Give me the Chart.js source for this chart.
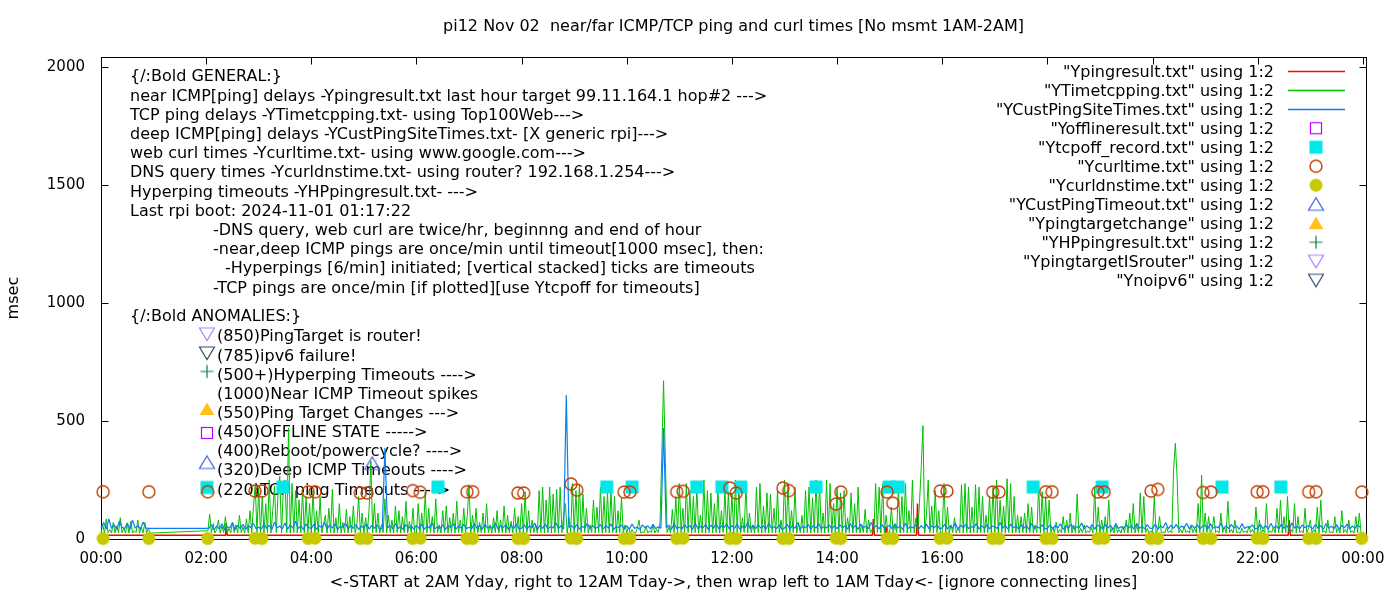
<!DOCTYPE html>
<html>
<head>
<meta charset="utf-8">
<script src="https://cdn.jsdelivr.net/npm/chart.js@4.4.1/dist/chart.umd.min.js"></script>
<style>html,body{margin:0;padding:0;background:#fff}</style>
</head>
<body>
<canvas id="c" width="1400" height="600"></canvas>
<script>
const FONT = "'DejaVu Sans', sans-serif";

// near ICMP ping (red line), sparse points, hours / msec
const pingHours = [0, 0.93, 2.03, 2.37, 2.38, 2.40, 14.67, 14.69, 14.71, 14.91, 14.93, 14.95, 15.51, 15.53, 15.55, 22.58, 22.60, 22.62, 23.97];
const pingMs    = [16, 16, 16, 16, 68, 16, 16, 85, 16, 16, 52, 16, 16, 150, 16, 16, 80, 16, 16];

// TCP ping delays (green), one value every 2 minutes from 00:00, one row per hour
const TCP_STEP_MIN = 2;
const tcpMs = [
  25,60,25,85,27,40,25,70,25,55,25,90,27,45,25,65,25,75,25,35,27,80,25,50,25,70,25,45,25,null,
  null,null,null,null,null,null,null,null,null,null,null,null,null,null,null,null,null,null,null,null,null,null,null,null,null,null,null,null,null,null,
  null,35,105,27,65,25,40,80,25,55,27,95,25,45,25,70,27,60,25,100,27,50,25,85,25,120,27,135,230,27,
  215,27,180,25,150,27,250,25,120,225,27,190,265,25,200,250,27,470,25,235,27,205,25,165,27,210,25,180,27,150,
  27,205,25,120,27,180,25,60,100,25,130,27,210,25,90,27,150,25,70,27,125,25,95,27,140,25,60,180,25,110,
  25,90,27,130,330,25,150,27,110,25,60,27,170,25,100,27,80,25,140,27,120,25,95,27,160,25,75,27,130,25,
  27,150,25,110,27,200,25,130,27,95,25,170,27,60,25,120,27,140,25,90,27,110,25,160,27,80,25,130,27,100,
  230,25,100,27,130,25,70,27,110,25,150,27,60,25,90,27,120,25,80,27,140,25,100,27,75,25,130,27,95,25,
  150,25,200,27,120,25,80,27,60,25,205,27,220,25,165,27,220,25,190,27,210,25,220,27,100,150,25,90,27,235,
  25,205,27,230,25,190,27,130,25,60,27,165,25,135,27,220,25,180,27,195,25,205,27,180,25,120,27,175,25,60,
  27,50,25,40,27,25,45,80,25,30,27,55,25,35,27,60,25,40,27,70,360,670,340,27,50,25,125,27,180,25,
  235,27,130,25,235,27,205,25,180,27,220,25,100,27,250,25,205,27,195,25,150,27,220,25,120,27,210,25,200,27,
  195,25,250,27,220,25,90,27,235,25,110,27,60,25,220,27,235,25,140,27,195,25,190,27,130,25,205,27,80,25,
  250,27,235,25,120,27,220,25,70,27,100,25,205,27,220,25,175,27,250,25,235,27,110,25,250,27,235,25,150,27,
  220,25,195,27,205,25,90,27,195,25,150,27,220,25,60,27,125,25,80,27,40,25,235,27,220,25,235,27,100,25,
  27,135,25,60,27,220,25,180,27,235,25,120,27,250,25,90,27,150,300,480,25,100,250,27,140,25,205,27,120,25,
  25,235,27,135,25,60,27,90,25,50,27,230,25,235,27,220,25,135,27,230,25,220,27,180,25,100,27,180,25,220,
  27,250,25,165,27,140,25,255,27,235,25,180,27,100,25,95,27,110,25,150,27,135,25,60,27,230,25,200,27,180,
  27,165,25,50,27,70,25,40,27,95,25,80,27,110,25,60,27,190,25,45,27,60,25,35,27,50,25,220,27,135,
  25,80,27,95,25,165,27,45,25,65,27,40,25,55,27,80,25,110,27,150,25,60,27,195,25,180,27,45,25,35,
  27,180,25,40,95,27,30,25,50,27,35,25,290,405,265,27,40,25,55,27,35,25,60,27,45,25,150,27,270,25,
  110,27,95,25,40,95,27,35,25,110,27,50,25,160,27,40,25,80,27,30,25,45,27,35,25,55,27,40,25,135,
  27,80,25,40,27,150,25,35,27,50,25,130,27,165,25,95,27,180,25,40,27,150,25,95,27,35,25,130,27,45,
  80,25,40,27,135,25,165,27,35,25,80,27,30,25,95,27,45,25,120,27,40,25,80,27,35,25,95,27,110,25
];

// deep ICMP ping delays (blue), one value every 3 minutes from 00:00, one row per hour
const CUST_STEP_MIN = 3;
const custMs = [
  48,70,42,85,45,60,40,75,50,44,68,41,80,46,55,43,72,47,45,null,
  null,null,null,null,null,null,null,null,null,null,null,null,null,null,null,null,null,null,null,null,
  null,45,60,38,55,42,65,40,52,47,70,39,58,44,62,41,56,48,66,43,
  50,42,64,45,58,40,72,47,55,43,68,41,60,46,75,44,57,40,63,48,
  45,62,40,56,48,70,42,59,46,65,41,53,49,67,43,58,45,61,40,55,
  47,64,42,58,45,60,41,46,385,48,57,43,66,45,52,40,61,47,55,42,
  58,44,63,41,55,47,68,43,52,45,60,40,57,49,65,42,54,46,62,44,
  50,43,66,45,58,41,62,47,53,44,69,42,56,48,60,40,57,45,64,43,
  46,60,42,55,48,67,41,58,45,63,43,52,47,70,44,56,42,610,49,57,
  44,62,41,54,47,66,43,58,45,50,61,42,57,46,64,40,53,48,60,43,
  55,42,63,45,51,40,60,47,56,43,62,44,52,46,470,48,58,41,65,45,
  50,43,61,46,57,41,68,44,53,47,62,40,59,45,66,43,55,48,63,42,
  57,45,64,41,53,48,70,43,58,44,61,46,55,42,67,47,52,44,60,41,
  46,63,42,57,45,69,43,54,48,62,41,58,46,65,44,52,47,60,43,56,
  44,61,47,55,42,66,45,58,41,63,48,54,44,70,46,57,43,62,45,52,
  58,43,64,46,55,41,67,44,52,47,61,42,57,45,63,43,56,48,60,44,
  47,62,43,56,45,68,41,59,46,63,44,53,48,66,42,57,45,61,43,55,
  52,44,70,46,58,42,63,47,55,43,61,45,57,41,66,44,53,46,60,42,
  45,60,43,57,48,64,41,55,46,62,44,53,47,68,43,56,45,61,42,58,
  54,43,62,46,58,41,65,45,52,44,60,47,56,42,67,45,53,43,61,46,
  44,63,41,56,47,70,43,59,45,62,42,55,48,66,44,57,46,60,43,54,
  58,42,64,45,53,47,68,43,57,44,62,46,55,41,65,45,52,48,60,43,
  46,61,44,57,42,66,47,55,43,63,45,58,41,69,46,54,44,60,47,56,
  52,43,62,45,57,41,65,46,54,44,61,42,58,47,63,43,55,45,60,50
];

// TCP ping timeouts (cyan squares)
const tcpoffHours = [3.46, 6.41, 9.62, 10.10, 11.33, 11.81, 12.17, 13.60, 14.99, 15.16, 17.73, 19.04, 21.32, 22.44];
const tcpoffMs    = [220, 220, 220, 220, 220, 220, 220, 220, 220, 220, 220, 220, 220, 220];

// web curl times (open circles)
const curlHours = [0.04,0.91,2.03,2.93,3.06,3.94,4.07,4.93,5.06,5.93,6.07,6.96,7.07,7.93,8.04,8.94,9.05,9.95,10.06,10.95,11.07,11.96,12.08,12.97,13.08,13.98,14.07,14.95,15.06,15.96,16.09,16.96,17.08,17.97,18.09,18.96,19.08,19.97,20.10,20.96,21.11,21.99,22.10,22.97,23.11,23.98];
const curlMs    = [200,200,200,203,203,200,200,195,195,205,198,200,200,195,195,233,207,199,199,200,202,216,195,216,205,148,199,199,152,203,203,199,199,200,200,199,199,203,210,197,199,200,200,200,200,199];

// DNS query times (filled yellow dots)
const dnsHours = [0.04,0.91,2.03,2.93,3.06,3.94,4.07,4.93,5.06,5.93,6.07,6.96,7.07,7.93,8.04,8.94,9.05,9.95,10.06,10.95,11.07,11.96,12.08,12.97,13.08,13.98,14.07,14.95,15.06,15.96,16.09,16.96,17.08,17.97,18.09,18.96,19.08,19.97,20.10,20.96,21.11,21.99,22.10,22.97,23.11,23.98];
const dnsMs    = [2,2,2,3,2,2,3,2,2,2,3,2,2,2,2,3,2,2,2,2,3,2,2,2,2,3,2,2,2,2,3,2,2,2,2,2,3,2,2,2,2,3,2,2,2,2];

// deep ICMP timeouts (open triangle)
const custTimeoutHours = [5.16];
const custTimeoutMs    = [320];

// series with no points today
const offlineHours = [], offlineMs = [];
const targetChangeHours = [], targetChangeMs = [];
const hpHours = [], hpMs = [];
const isRouterHours = [], isRouterMs = [];
const noIpv6Hours = [], noIpv6Ms = [];

// axis ticks
const xTickHours = [0, 2, 4, 6, 8, 10, 12, 14, 16, 18, 20, 22, 24];
const yTickMs = [0, 500, 1000, 1500, 2000];

const titleText = 'pi12 Nov 02  near/far ICMP/TCP ping and curl times [No msmt 1AM-2AM]';
const xTitle = '<-START at 2AM Yday, right to 12AM Tday->, then wrap left to 1AM Tday<- [ignore connecting lines]';
const yTitle = 'msec';

const generalNotes = [
  '{/:Bold GENERAL:}',
  'near ICMP[ping] delays -Ypingresult.txt last hour target 99.11.164.1 hop#2 --->',
  'TCP ping delays -YTimetcpping.txt- using Top100Web--->',
  'deep ICMP[ping] delays -YCustPingSiteTimes.txt- [X generic rpi]--->',
  'web curl times -Ycurltime.txt- using www.google.com--->',
  'DNS query times -Ycurldnstime.txt- using router? 192.168.1.254--->',
  'Hyperping timeouts -YHPpingresult.txt- --->',
  'Last rpi boot: 2024-11-01 01:17:22',
  '-DNS query, web curl are twice/hr, beginnng and end of hour',
  '-near,deep ICMP pings are once/min until timeout[1000 msec], then:',
  '-Hyperpings [6/min] initiated; [vertical stacked] ticks are timeouts',
  '-TCP pings are once/min [if plotted][use Ytcpoff for timeouts]'
];
const anomalyTitle = '{/:Bold ANOMALIES:}';
const anomalyNotes = [
  '(850)PingTarget is router!',
  '(785)ipv6 failure!',
  '(500+)Hyperping Timeouts ---->',
  '(1000)Near ICMP Timeout spikes',
  '(550)Ping Target Changes --->',
  '(450)OFFLINE STATE ----->',
  '(400)Reboot/powercycle? ---->',
  '(320)Deep ICMP Timeouts ---->',
  '(220)TCP ping Timeouts ---->'
];

// gnuplot-like point symbols, drawn once into small canvases
function makeMark(kind, color) {
  const c = document.createElement('canvas');
  c.width = 18; c.height = 18;
  const g = c.getContext('2d');
  g.strokeStyle = color; g.fillStyle = color; g.lineWidth = 1.2;
  g.beginPath();
  if (kind === 'boxOpen') { g.strokeRect(3.5, 3.5, 11, 11); }
  else if (kind === 'boxFill') { g.fillRect(2.5, 2.5, 13, 13); }
  else if (kind === 'circOpen') { g.lineWidth = 1.4; g.arc(9, 9, 6, 0, Math.PI * 2); g.stroke(); }
  else if (kind === 'circFill') { g.arc(9, 9, 6.5, 0, Math.PI * 2); g.fill(); }
  else if (kind === 'triUp' || kind === 'triUpFill') {
    g.moveTo(9, 2.5); g.lineTo(16.5, 15); g.lineTo(1.5, 15); g.closePath();
    kind === 'triUp' ? g.stroke() : g.fill();
  } else if (kind === 'triDown') {
    g.moveTo(1.5, 3); g.lineTo(16.5, 3); g.lineTo(9, 15.5); g.closePath(); g.stroke();
  } else if (kind === 'plus') {
    g.moveTo(9, 2.5); g.lineTo(9, 15.5); g.moveTo(2.5, 9); g.lineTo(15.5, 9); g.stroke();
  }
  return c;
}

const pts = (xs, ys) => xs.map((h, i) => ({ x: h, y: ys[i] }));
const grid = (vals, stepMin) => vals.map((v, i) => ({ x: i * stepMin / 60, y: v }));

function lineSet(label, data, color, width) {
  return { label, data, borderColor: color, backgroundColor: color, borderWidth: width,
    pointRadius: 0, spanGaps: true, borderJoinStyle: 'bevel', clip: false, fill: false };
}
function markSet(label, data, kind, color) {
  return { label, data, showLine: false, pointStyle: makeMark(kind, color), pointRadius: 6,
    borderColor: color, backgroundColor: color, clip: false };
}

const datasets = [
  lineSet('"Ypingresult.txt" using 1:2', pts(pingHours, pingMs), '#ff0000', 1.5),
  lineSet('"YTimetcpping.txt" using 1:2', grid(tcpMs, TCP_STEP_MIN), '#00c000', 1),
  lineSet('"YCustPingSiteTimes.txt" using 1:2', grid(custMs, CUST_STEP_MIN), '#0a80f0', 1.2),
  markSet('"Yofflineresult.txt" using 1:2', pts(offlineHours, offlineMs), 'boxOpen', '#c000ff'),
  markSet('"Ytcpoff_record.txt" using 1:2', pts(tcpoffHours, tcpoffMs), 'boxFill', '#00e8e8'),
  markSet('"Ycurltime.txt" using 1:2', pts(curlHours, curlMs), 'circOpen', '#c04000'),
  markSet('"Ycurldnstime.txt" using 1:2', pts(dnsHours, dnsMs), 'circFill', '#c8c800'),
  markSet('"YCustPingTimeout.txt" using 1:2', pts(custTimeoutHours, custTimeoutMs), 'triUp', '#4060e0'),
  markSet('"Ypingtargetchange" using 1:2', pts(targetChangeHours, targetChangeMs), 'triUpFill', '#ffc020'),
  markSet('"YHPpingresult.txt" using 1:2', pts(hpHours, hpMs), 'plus', '#008040'),
  markSet('"YpingtargetISrouter" using 1:2', pts(isRouterHours, isRouterMs), 'triDown', '#b080ff'),
  markSet('"Ynoipv6" using 1:2', pts(noIpv6Hours, noIpv6Ms), 'triDown', '#305070')
];
// gnuplot draws in file order: first dataset at the back
datasets.forEach((d, i) => { d.order = datasets.length - i; });

// which dataset symbol sits in front of each anomaly line (null = none)
const anomalyMarks = [10, 11, 9, null, 8, 3, null, 7, 4];

const frame = {
  id: 'gnuFrame',
  beforeDatasetsDraw(chart) {
    const { ctx, chartArea: a, scales: { x, y } } = chart;
    ctx.save();
    ctx.font = '16px ' + FONT;
    ctx.fillStyle = '#000';
    ctx.textAlign = 'left';
    ctx.textBaseline = 'middle';
    const indent = [0, 0, 0, 0, 0, 0, 0, 0, 83, 83, 95, 83];
    generalNotes.forEach((t, i) => ctx.fillText(t, a.left + 29 + indent[i], a.top + 20 + i * 19.2));
    ctx.fillText(anomalyTitle, a.left + 29, a.top + 260);
    const markY = [334, 353, 371.5, null, 409, 433, null, 462.5, 487.5];
    anomalyNotes.forEach((t, i) => {
      ctx.fillText(t, a.left + 116, a.top + 280 + i * 19.15);
      const m = anomalyMarks[i];
      if (m !== null) ctx.drawImage(chart.data.datasets[m].pointStyle, a.left + 106 - 9, markY[i] - 9);
    });
    // border and inward ticks on all four sides
    ctx.strokeStyle = '#000';
    ctx.lineWidth = 1;
    const L = Math.round(a.left) + 0.5, R = Math.round(a.right) + 0.5;
    const T = Math.round(a.top) + 0.5, B = Math.round(a.bottom) + 0.5;
    ctx.strokeRect(L, T, R - L, B - T);
    ctx.beginPath();
    y.ticks.forEach(t => {
      const p = Math.round(y.getPixelForValue(t.value)) + 0.5;
      ctx.moveTo(L, p); ctx.lineTo(L + 7, p);
      ctx.moveTo(R, p); ctx.lineTo(R - 7, p);
    });
    x.ticks.forEach(t => {
      const p = Math.round(x.getPixelForValue(t.value)) + 0.5;
      ctx.moveTo(p, B); ctx.lineTo(p, B - 7);
      ctx.moveTo(p, T); ctx.lineTo(p, T + 7);
    });
    ctx.stroke();
    ctx.restore();
  },
  afterDatasetsDraw(chart) {
    const { ctx, chartArea: a } = chart;
    ctx.save();
    ctx.font = '16px ' + FONT;
    ctx.fillStyle = '#000';
    ctx.textAlign = 'right';
    ctx.textBaseline = 'middle';
    chart.data.datasets.forEach((d, i) => {
      const yy = a.top + 14 + i * 19;
      ctx.fillText(d.label, a.right - 92, yy + 2);
      if (d.showLine === false) {
        ctx.drawImage(d.pointStyle, a.right - 50 - 9, yy - 9);
      } else {
        ctx.strokeStyle = d.borderColor;
        ctx.lineWidth = 1.5;
        ctx.beginPath();
        ctx.moveTo(a.right - 78, Math.round(yy) + 0.5);
        ctx.lineTo(a.right - 21, Math.round(yy) + 0.5);
        ctx.stroke();
      }
    });
    ctx.restore();
  }
};

Chart.defaults.font.family = FONT;
Chart.defaults.font.size = 15;
Chart.defaults.color = '#000';

new Chart(document.getElementById('c'), {
  type: 'line',
  data: { datasets },
  options: {
    responsive: false,
    animation: false,
    events: [],
    layout: { padding: { top: 0, right: 34, bottom: 0, left: 0 } },
    plugins: {
      legend: { display: false },
      tooltip: { enabled: false },
      title: {
        display: true, text: titleText, fullSize: false, color: '#000',
        font: { family: FONT, size: 16, weight: 'normal' },
        padding: { top: 17, bottom: 21 }
      }
    },
    scales: {
      x: {
        type: 'linear', min: 0, max: 24.06,
        grid: { display: false, drawTicks: false },
        border: { display: false },
        afterBuildTicks: s => { s.ticks = xTickHours.map(v => ({ value: v })); },
        ticks: {
          autoSkip: false, maxRotation: 0, padding: 11,
          callback: v => String(v % 24).padStart(2, '0') + ':00'
        },
        title: { display: true, text: xTitle, font: { size: 16 }, padding: { top: 0, bottom: 8 } },
        afterFit: s => { s.height = 61; }
      },
      y: {
        type: 'linear', min: 0, max: 2040,
        grid: { display: false, drawTicks: false },
        border: { display: false },
        afterBuildTicks: s => { s.ticks = yTickMs.map(v => ({ value: v })); },
        ticks: { padding: 16, callback: v => String(v) },
        title: { display: true, text: yTitle, font: { size: 16 }, padding: { top: 4, bottom: 0 } },
        afterFit: s => { s.width = 101; }
      }
    }
  },
  plugins: [frame]
});
</script>
</body>
</html>
